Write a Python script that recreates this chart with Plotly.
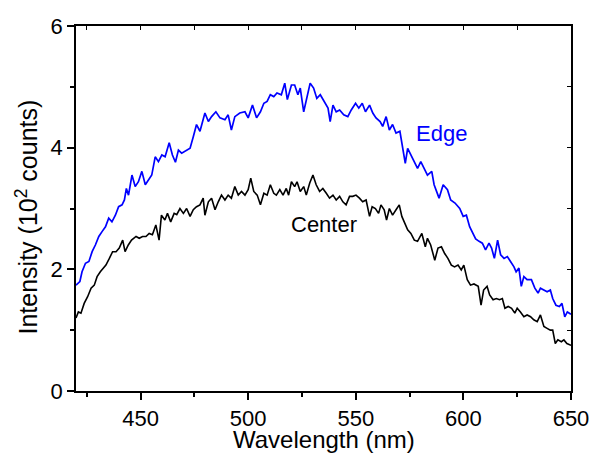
import plotly.graph_objects as go

# Edge (blue) spectrum
edge_wl = [420.0, 421.8, 422.8, 424.4, 426.0, 427.5, 429.0, 430.6, 432.1, 433.7, 435.2, 436.7, 438.3, 439.8,
           441.4, 442.5, 443.4, 444.4, 446.0, 447.5, 449.0, 450.6, 452.2, 453.7, 455.2, 456.8, 458.3, 459.9,
           461.4, 463.3, 464.8, 466.2, 467.6, 469.1, 471.4, 473.0, 474.5, 476.0, 477.6, 479.9, 481.5, 483.0,
           485.0, 486.9, 489.2, 490.7, 492.2, 493.8, 496.1, 498.5, 500.0, 502.0, 503.9, 505.7, 507.3, 508.8,
           510.3, 511.9, 513.4, 515.4, 517.0, 518.2, 520.1, 521.6, 523.1, 524.2, 525.8, 527.3, 528.8, 530.4,
           531.9, 533.5, 535.5, 537.1, 538.1, 539.4, 540.9, 542.5, 544.4, 546.3, 547.9, 549.9, 551.4, 553.0,
           554.5, 556.4, 557.9, 559.4, 561.3, 562.5, 564.1, 565.6, 567.1, 568.7, 570.5, 571.8, 573.0, 574.1,
           575.6, 577.2, 578.7, 580.2, 581.8, 583.3, 585.3, 586.4, 588.7, 590.6, 592.6, 594.1, 596.1, 598.3,
           599.9, 601.4, 602.9, 604.5, 605.7, 607.3, 608.8, 610.3, 611.9, 613.1, 614.4, 615.9, 617.3, 618.9,
           620.4, 621.9, 623.5, 624.5, 625.8, 626.9, 628.1, 629.6, 631.6, 633.2, 634.7, 635.8, 637.3, 638.9,
           640.4, 641.5, 643.0, 644.6, 645.8, 647.1, 648.3, 650.0]
edge_int = [1.74, 1.80, 1.96, 2.10, 2.13, 2.29, 2.40, 2.54, 2.62, 2.70, 2.84, 2.78, 2.89, 3.03,
            3.06, 3.14, 3.33, 3.22, 3.55, 3.36, 3.44, 3.61, 3.39, 3.47, 3.55, 3.85, 3.77, 3.88,
            3.85, 4.08, 3.88, 3.76, 3.96, 3.91, 3.96, 3.99, 4.18, 4.38, 4.27, 4.57, 4.43, 4.51,
            4.59, 4.49, 4.46, 4.54, 4.29, 4.51, 4.57, 4.59, 4.49, 4.70, 4.49, 4.59, 4.73, 4.76,
            4.87, 4.84, 4.90, 4.87, 5.06, 4.79, 5.03, 5.03, 4.87, 4.98, 4.59, 4.81, 5.06, 4.98,
            4.81, 4.87, 4.76, 4.65, 4.43, 4.70, 4.59, 4.62, 4.54, 4.51, 4.62, 4.73, 4.65, 4.73,
            4.59, 4.70, 4.57, 4.49, 4.43, 4.35, 4.51, 4.29, 4.38, 4.24, 4.27, 4.02, 3.74, 3.99,
            3.88, 3.77, 3.66, 3.77, 3.66, 3.55, 3.61, 3.39, 3.17, 3.39, 3.31, 3.14, 3.09, 3.00,
            2.87, 2.89, 2.70, 2.59, 2.50, 2.46, 2.43, 2.32, 2.43, 2.35, 2.18, 2.48, 2.24, 2.18,
            2.21, 2.13, 2.04, 1.96, 2.02, 1.72, 1.88, 1.83, 1.83, 1.69, 1.61, 1.69, 1.66, 1.63,
            1.66, 1.52, 1.41, 1.39, 1.44, 1.22, 1.30, 1.26]

# Center (black) spectrum
center_wl = [420.0, 421.1, 422.3, 423.8, 425.4, 427.0, 428.5, 429.8, 431.3, 432.8, 433.9, 435.5, 437.0, 438.6,
             440.1, 441.7, 442.8, 444.3, 445.8, 447.9, 449.4, 450.9, 452.5, 454.0, 455.5, 457.1, 458.6, 459.7,
             461.3, 462.5, 464.0, 465.6, 466.8, 468.3, 469.9, 471.4, 473.0, 474.5, 476.0, 477.6, 479.1, 479.9,
             481.5, 483.0, 484.6, 486.1, 487.6, 489.2, 490.7, 492.2, 493.8, 495.4, 496.9, 498.5, 500.0, 501.2,
             502.6, 504.2, 505.7, 507.3, 508.8, 510.3, 511.9, 513.1, 514.7, 516.2, 517.7, 518.8, 520.1, 521.6,
             522.7, 524.2, 525.8, 527.0, 528.6, 530.1, 531.6, 533.2, 534.7, 536.3, 537.8, 539.4, 540.9, 542.5,
             544.0, 545.5, 547.1, 548.6, 550.1, 551.7, 553.2, 554.8, 556.4, 557.6, 559.1, 560.6, 561.7, 563.2,
             564.3, 565.6, 567.1, 568.7, 570.2, 571.4, 573.0, 574.1, 575.6, 577.2, 578.7, 580.7, 582.3, 583.3,
             584.8, 586.7, 588.2, 589.8, 591.3, 592.8, 594.4, 595.9, 597.5, 599.0, 600.2, 601.8, 603.3, 604.9,
             606.9, 608.2, 609.4, 611.0, 612.2, 613.8, 615.3, 616.8, 618.1, 619.3, 620.8, 622.4, 623.9, 625.0,
             626.5, 628.1, 629.6, 631.2, 632.7, 634.3, 635.8, 637.4, 638.9, 640.4, 641.5, 642.7, 643.9, 645.5,
             646.7, 648.1, 650.0]
center_int = [1.20, 1.30, 1.28, 1.44, 1.55, 1.69, 1.74, 1.88, 1.96, 2.02, 2.07, 2.18, 2.29, 2.29,
              2.35, 2.48, 2.29, 2.40, 2.48, 2.54, 2.51, 2.54, 2.54, 2.59, 2.57, 2.73, 2.48, 2.89,
              2.81, 2.92, 2.78, 2.92, 2.90, 3.00, 2.92, 3.00, 2.87, 2.98, 3.03, 3.06, 3.17, 2.89,
              3.11, 3.17, 2.98, 3.11, 3.22, 3.14, 3.22, 3.17, 3.36, 3.22, 3.28, 3.22, 3.31, 3.50,
              3.28, 3.22, 3.06, 3.25, 3.22, 3.39, 3.25, 3.22, 3.31, 3.22, 3.33, 3.22, 3.44, 3.36,
              3.44, 3.28, 3.36, 3.22, 3.42, 3.55, 3.39, 3.28, 3.33, 3.25, 3.17, 3.22, 3.14, 3.20,
              3.11, 3.06, 3.20, 3.20, 3.22, 3.17, 3.11, 3.14, 2.87, 3.03, 3.00, 2.92, 3.06, 2.98,
              2.81, 3.00, 2.89, 2.98, 3.06, 2.87, 2.73, 2.65, 2.59, 2.48, 2.46, 2.59, 2.37, 2.51,
              2.40, 2.15, 2.35, 2.37, 2.26, 2.18, 2.07, 2.04, 2.07, 1.99, 2.07, 1.83, 1.74, 1.76,
              1.72, 1.41, 1.66, 1.72, 1.58, 1.50, 1.52, 1.50, 1.52, 1.36, 1.39, 1.36, 1.28, 1.36,
              1.30, 1.22, 1.25, 1.22, 1.17, 1.14, 1.25, 1.06, 1.03, 1.00, 1.00, 0.78, 0.84, 0.81,
              0.84, 0.78, 0.75]

x_ticks = [450, 500, 550, 600, 650]
y_ticks = [0, 2, 4, 6]

FONT = "Arial, Liberation Sans, sans-serif"

fig = go.Figure()
fig.add_trace(go.Scatter(x=edge_wl, y=edge_int, mode="lines",
                         line=dict(color="#0000FF", width=1.7), showlegend=False, name="Edge"))
fig.add_trace(go.Scatter(x=center_wl, y=center_int, mode="lines",
                         line=dict(color="#000000", width=1.6), showlegend=False, name="Center"))
# invisible trace to carry the mirrored top/right axes
fig.add_trace(go.Scatter(x=[420], y=[0], xaxis="x2", yaxis="y2", mode="markers",
                         marker=dict(opacity=0), showlegend=False, hoverinfo="skip"))

fig.add_annotation(x=590, y=4.24, text="Edge", showarrow=False,
                   font=dict(family=FONT, size=22, color="#0000FF"))
fig.add_annotation(x=535.3, y=2.73, text="Center", showarrow=False,
                   font=dict(family=FONT, size=22, color="#000000"))

# axis titles
fig.add_annotation(xref="paper", yref="paper", x=0.5, y=0, yanchor="middle", yshift=-48,
                   text="Wavelength (nm)", showarrow=False,
                   font=dict(family=FONT, size=24, color="black"))
fig.add_annotation(xref="paper", yref="paper", x=0, y=0.5, xanchor="center", yanchor="middle",
                   xshift=-50, yshift=-9, textangle=-90,
                   text="Intensity (10<sup>2</sup> counts)", showarrow=False,
                   font=dict(family=FONT, size=25, color="black"))

fig.update_layout(
    width=594, height=453,
    margin=dict(l=76, r=23, t=26, b=62),
    paper_bgcolor="white", plot_bgcolor="white",
    font=dict(family=FONT, size=22, color="black"),
    xaxis=dict(range=[420, 650], tickmode="array", tickvals=x_ticks, automargin=False,
               ticks="outside", ticklen=7, tickwidth=1.5, tickcolor="black",
               showline=True, linecolor="black", linewidth=1.5, showgrid=False, zeroline=False,
               tickfont=dict(family=FONT, size=22),
               minor=dict(tickmode="linear", tick0=425, dtick=50, ticks="outside",
                          ticklen=4, tickwidth=1.5, tickcolor="black", showgrid=False)),
    yaxis=dict(range=[0, 6], tickmode="array", tickvals=y_ticks, automargin=False,
               ticks="outside", ticklen=7, tickwidth=1.5, tickcolor="black",
               showline=True, linecolor="black", linewidth=1.5, showgrid=False, zeroline=False,
               tickfont=dict(family=FONT, size=22),
               minor=dict(tickmode="linear", tick0=1, dtick=2, ticks="outside",
                          ticklen=4, tickwidth=1.5, tickcolor="black", showgrid=False)),
    xaxis2=dict(range=[420, 650], overlaying="x", side="top", anchor="y2", automargin=False,
                tickmode="linear", tick0=425, dtick=25, ticks="inside", ticklen=4,
                tickwidth=1.2, tickcolor="black", showticklabels=False,
                showline=True, linecolor="black", linewidth=1.5, showgrid=False, zeroline=False),
    yaxis2=dict(range=[0, 6], overlaying="y", side="right", anchor="x2", automargin=False,
                tickmode="linear", tick0=0, dtick=1, ticks="inside", ticklen=4,
                tickwidth=1.2, tickcolor="black", showticklabels=False,
                showline=True, linecolor="black", linewidth=1.5, showgrid=False, zeroline=False),
)

fig.write_html("out.html", config={"displayModeBar": False},
               post_script="document.body.style.margin='0';document.body.style.padding='0';")
